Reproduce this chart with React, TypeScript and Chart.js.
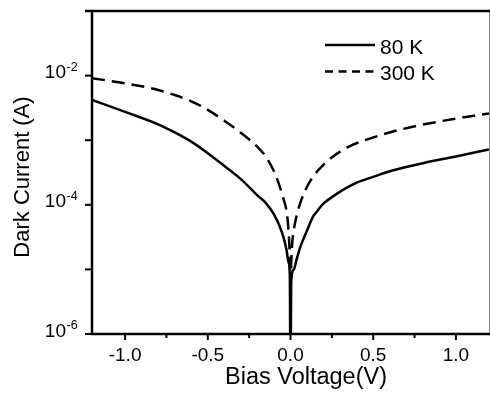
import React, { useEffect, useRef } from "react";
import { Chart, registerables } from "chart.js";

Chart.register(...registerables);

// ---- data ----
const voltage80 = [-1.2, -1.0, -0.8, -0.7, -0.6, -0.5, -0.4, -0.3, -0.2, -0.15, -0.1, -0.065, -0.04, -0.024, -0.012, -0.004, 0, 0.004, 0.02, 0.036, 0.056, 0.1, 0.137, 0.16, 0.2, 0.257, 0.3, 0.4, 0.5, 0.6, 0.8, 1.0, 1.2];
const current80 = [4.2e-3, 2.75e-3, 1.76e-3, 1.32e-3, 9.5e-4, 6.3e-4, 4.0e-4, 2.5e-4, 1.4e-4, 1.07e-4, 7.1e-5, 4.6e-5, 3.0e-5, 2.0e-5, 1.3e-5, 7.9e-6, 1e-7, 6.3e-6, 1.0e-5, 1.4e-5, 2.1e-5, 4.0e-5, 6.6e-5, 7.9e-5, 1.05e-4, 1.35e-4, 1.6e-4, 2.2e-4, 2.7e-4, 3.3e-4, 4.4e-4, 5.6e-4, 7.2e-4];

const voltage300 = [-1.2, -1.0, -0.8, -0.7, -0.6, -0.5, -0.4, -0.3, -0.2, -0.15, -0.1, -0.073, -0.045, -0.022, -0.012, -0.005, 0, 0.005, 0.01, 0.016, 0.036, 0.066, 0.1, 0.137, 0.2, 0.257, 0.35, 0.46, 0.66, 0.9, 1.2];
const current300 = [9.1e-3, 7.6e-3, 6.0e-3, 5.0e-3, 4.0e-3, 2.95e-3, 2.0e-3, 1.3e-3, 7.9e-4, 5.6e-4, 3.3e-4, 2.2e-4, 1.3e-4, 7.4e-5, 4.0e-5, 1.8e-5, 6.3e-6, 1.4e-5, 2.5e-5, 3.5e-5, 6.6e-5, 1.2e-4, 1.9e-4, 2.75e-4, 4.2e-4, 5.6e-4, 7.9e-4, 1.02e-3, 1.45e-3, 1.95e-3, 2.6e-3];

const seriesLabels = ["80 K", "300 K"];
const xTickValues = [-1.0, -0.5, 0.0, 0.5, 1.0];
const xMinorTicks = [-0.75, -0.25, 0.25, 0.75];
const yMajorExponents = [-6, -4, -2];
const yMinorExponents = [-5, -3, -1];
const xTitle = "Bias Voltage(V)";
const yTitle = "Dark Current (A)";

const FONT = '"Liberation Sans", Arial, sans-serif';

const overlay = {
  id: "overlay",
  afterDraw(chart: any) {
    const { ctx, chartArea: a, scales } = chart;
    const xs = scales.x;
    const ys = scales.y;
    ctx.save();
    ctx.fillStyle = "#000";
    ctx.lineCap = "butt";

    // right frame edge (thin gray)
    ctx.strokeStyle = "#888";
    ctx.lineWidth = 1;
    ctx.beginPath();
    ctx.moveTo(a.right + 0.5, a.top);
    ctx.lineTo(a.right + 0.5, a.bottom);
    ctx.stroke();

    ctx.strokeStyle = "#000";
    ctx.lineWidth = 2.5;
    // top
    ctx.beginPath();
    ctx.moveTo(a.left - 7, a.top);
    ctx.lineTo(a.right + 1, a.top);
    ctx.stroke();
    // left
    ctx.beginPath();
    ctx.moveTo(a.left, a.top - 1);
    ctx.lineTo(a.left, a.bottom + 1);
    ctx.stroke();
    // bottom
    ctx.beginPath();
    ctx.moveTo(a.left - 1, a.bottom);
    ctx.lineTo(a.right + 1, a.bottom);
    ctx.stroke();

    // y ticks
    ctx.lineWidth = 2;
    [...yMajorExponents, ...yMinorExponents].forEach((e) => {
      const py = ys.getPixelForValue(Math.pow(10, e));
      ctx.beginPath();
      ctx.moveTo(a.left - 7, py);
      ctx.lineTo(a.left, py);
      ctx.stroke();
    });
    // x ticks
    xTickValues.forEach((v) => {
      const px = xs.getPixelForValue(v);
      ctx.beginPath();
      ctx.moveTo(px, a.bottom);
      ctx.lineTo(px, a.bottom + 6);
      ctx.stroke();
    });
    xMinorTicks.forEach((v) => {
      const px = xs.getPixelForValue(v);
      ctx.beginPath();
      ctx.moveTo(px, a.bottom);
      ctx.lineTo(px, a.bottom + 4);
      ctx.stroke();
    });

    // y tick labels 10^n
    yMajorExponents.forEach((e) => {
      const py = ys.getPixelForValue(Math.pow(10, e));
      ctx.font = `19px ${FONT}`;
      ctx.textAlign = "right";
      ctx.textBaseline = "alphabetic";
      ctx.fillText("10", 66, py + 2.5);
      ctx.font = `12.5px ${FONT}`;
      ctx.textAlign = "left";
      ctx.fillText(String(e), 66.5, py - 5);
    });

    // x title
    ctx.font = `23.5px ${FONT}`;
    ctx.textAlign = "center";
    ctx.textBaseline = "alphabetic";
    ctx.fillText(xTitle, 306, 384);

    // y title
    ctx.font = `22px ${FONT}`;
    ctx.save();
    ctx.translate(28.5, 177);
    ctx.rotate(-Math.PI / 2);
    ctx.fillText(yTitle, 0, 0);
    ctx.restore();

    // legend
    ctx.lineWidth = 2.5;
    ctx.beginPath();
    ctx.moveTo(325, 45);
    ctx.lineTo(375, 45);
    ctx.stroke();
    ctx.setLineDash([8, 5.5]);
    ctx.beginPath();
    ctx.moveTo(325, 71.5);
    ctx.lineTo(375, 71.5);
    ctx.stroke();
    ctx.setLineDash([]);
    ctx.font = `21px ${FONT}`;
    ctx.textAlign = "left";
    ctx.fillText(seriesLabels[0], 380, 53.5);
    ctx.fillText(seriesLabels[1], 380, 79.5);

    ctx.restore();
  },
};

export default function App() {
  const ref = useRef<HTMLCanvasElement | null>(null);

  useEffect(() => {
    if (!ref.current) return;
    const chart = new Chart(ref.current, {
      type: "scatter",
      data: {
        datasets: [
          {
            label: seriesLabels[0],
            data: voltage80.map((v, i) => ({ x: v, y: current80[i] })),
            showLine: true,
            borderColor: "#000",
            borderWidth: 2.5,
            pointRadius: 0,
            cubicInterpolationMode: "monotone",
          },
          {
            label: seriesLabels[1],
            data: voltage300.map((v, i) => ({ x: v, y: current300[i] })),
            showLine: true,
            borderColor: "#000",
            borderWidth: 2.5,
            borderDash: [13, 7],
            pointRadius: 0,
            cubicInterpolationMode: "monotone",
          },
        ],
      },
      options: {
        responsive: false,
        animation: false,
        layout: { padding: { top: 11, right: 1, left: 0, bottom: 0 } },
        plugins: { legend: { display: false }, tooltip: { enabled: false } },
        scales: {
          x: {
            type: "linear",
            min: -1.2,
            max: 1.2,
            grid: { display: false, drawTicks: false },
            border: { display: false },
            afterBuildTicks: (s: any) => {
              s.ticks = xTickValues.map((v) => ({ value: v }));
            },
            afterFit: (s: any) => {
              s.height = 59;
            },
            ticks: {
              color: "#000",
              font: { family: FONT, size: 19 },
              padding: 10,
              maxRotation: 0,
              autoSkip: false,
              callback: (v: any) => Number(v).toFixed(1),
            },
          },
          y: {
            type: "logarithmic",
            min: 1e-6,
            max: 1e-1,
            grid: { display: false, drawTicks: false },
            border: { display: false },
            ticks: { display: false },
            afterFit: (s: any) => {
              s.width = 92;
            },
          },
        },
      },
      plugins: [overlay],
    });
    return () => chart.destroy();
  }, []);

  return (
    <div style={{ position: "fixed", left: 0, top: 0, width: 490, height: 393, background: "#fff" }}>
      <canvas ref={ref} width={490} height={393} />
    </div>
  );
}
